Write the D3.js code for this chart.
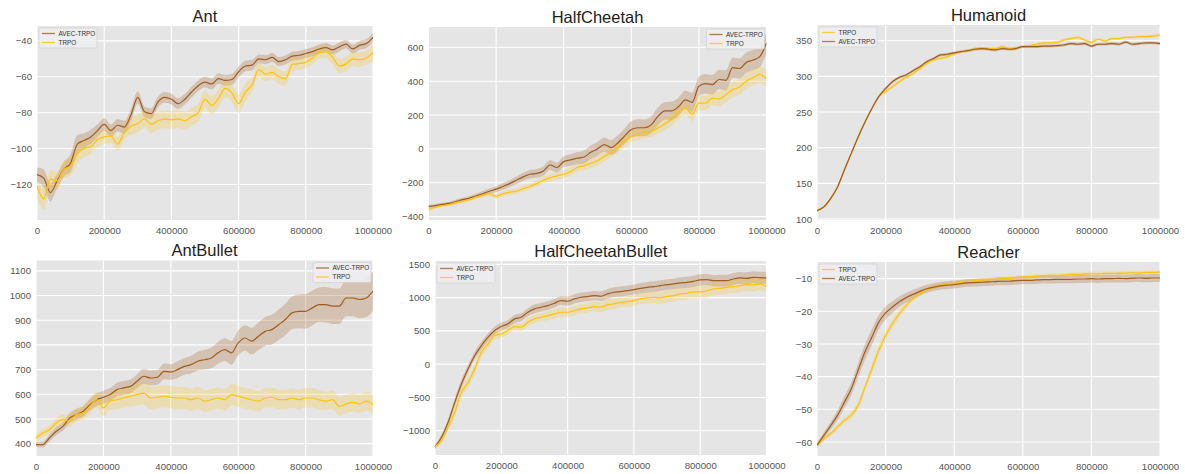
<!DOCTYPE html>
<html>
<head>
<meta charset="utf-8">
<script src="https://cdn.jsdelivr.net/npm/d3@7"></script>
<style>
  html, body { margin: 0; padding: 0; background: #ffffff; }
  svg { display: block; font-family: "Liberation Sans", Arial, sans-serif; }
</style>
</head>
<body>
<svg id="chart" width="1185" height="474"></svg>
<script>
// ---------------- DATA ----------------
const STEPS = [0,20000,40000,60000,80000,100000,120000,140000,160000,180000,
  200000,220000,240000,260000,280000,300000,320000,340000,360000,380000,
  400000,420000,440000,460000,480000,500000,520000,540000,560000,580000,
  600000,620000,640000,660000,680000,700000,720000,740000,760000,780000,
  800000,820000,840000,860000,880000,900000,920000,940000,960000,980000,1000000];
const X_TICKS = [0,200000,400000,600000,800000,1000000];
const TITLES = ["Ant","HalfCheetah","Humanoid","AntBullet","HalfCheetahBullet","Reacher"];
const SERIES_NAMES = ["AVEC-TRPO","TRPO"];

// Ant
const ANT_AVEC = [-114.5,-116.5,-124.5,-118,-111.5,-108,-97.5,-95.5,-93.5,-90,-86.5,-90,-87,-88,-81,-71.5,-79.5,-80.5,-74,-71.5,-72.5,-75,-72.5,-68.5,-65,-63,-64,-61,-62,-61.5,-57.2,-54,-53.5,-50,-50.5,-49.2,-51.5,-50.5,-48.5,-48,-47,-46,-44.5,-43.7,-45,-43.3,-41.8,-44.5,-42.5,-41.5,-38];
const ANT_AVEC_SD = [4,5,5,4,4,5,5,4,4,3.5,3.5,3.5,3.5,3.5,3.5,3.5,3,3,3,3,3,3,3,3,3,3,3,3,3,3,3,3,3,2.5,2.5,2.5,2.5,2.5,2.5,2.5,2.5,2.5,2.5,2.5,2.5,2.5,2.5,2.5,2.5,2.5,2.5];
const ANT_TRPO = [-121,-128,-117,-118,-111.5,-110,-103,-100,-99,-95,-93.5,-93,-97.5,-91,-87.5,-86,-83.5,-86.5,-84.5,-83.5,-84,-83.5,-84.5,-82.2,-80,-72.5,-76,-72,-66.5,-69,-75,-68.5,-64.5,-56,-58.5,-57.5,-60,-61,-53,-52.6,-51.8,-49.5,-46.5,-46,-49.2,-54,-52.8,-50,-50.5,-49.5,-46.5];
const ANT_TRPO_SD = [6,6,5,5,5,5,5,5,4,4,4,4,4,4,5,5,5,5,5,5,5,5,5,5,5,5,5,5,5,5,5,5,4,4,4,4,4,4,4,3.5,3.5,3.5,3.5,3.5,4,4,4,4,4,4,5];

// HalfCheetah
const HC_AVEC = [-340,-335,-328,-322,-312,-300,-292,-278,-265,-250,-238,-222,-205,-185,-165,-150,-145,-130,-95,-110,-75,-65,-55,-48,-20,0,25,8,35,75,115,125,125,145,195,225,225,250,290,275,370,385,380,410,405,480,475,510,525,545,625];
const HC_AVEC_SD = [10,10,10,10,12,12,12,14,15,16,18,20,20,22,24,25,26,28,30,30,32,34,36,38,40,40,42,44,45,46,48,50,50,50,52,52,54,54,55,56,56,58,58,58,60,60,60,60,60,62,62];
const HC_TRPO = [-358,-345,-335,-330,-318,-310,-300,-285,-275,-265,-280,-265,-255,-250,-235,-222,-205,-185,-170,-160,-150,-135,-110,-100,-85,-70,-45,-20,10,45,75,85,100,105,125,150,175,215,240,205,270,270,300,295,320,350,365,400,420,440,415];
const HC_TRPO_SD = [10,10,10,10,10,10,12,12,12,14,14,15,16,16,18,18,20,20,22,22,24,24,25,26,28,28,30,30,32,32,34,34,35,36,36,38,38,40,40,40,42,42,44,44,45,46,46,48,48,50,50];

// Humanoid
const HUM_AVEC = [111.7,117,129,145,169,192,215,236,255,271.5,283,292.5,298.6,302,308,313.6,320.6,325,330,331,333,334.6,336,338,339,338,337,339,338,339,341.6,341.6,341.6,342.5,342.5,343,344,346,345,346,342.5,345,345,346,345,348,345,346,347,347,346];
const HUM_AVEC_SD = [1.5,1.5,1.5,2,2,2,2,2,2,2,2,2,2,2,2,2,2,2,2,2,2,2,2,2,2,2,2,2,2,2,2,2,2,2,2,2,2,2,2,2,2,2,2,2,2,2,2,2,2,2,2];
const HUM_TRPO = [111.7,117,129,145,169,192,215,236,255,271.5,278.5,285.5,292.5,298.6,304,311,318,323,325,327.6,331,334.6,336,338,339,339,339,341.6,339,339,341.6,343,345,347,347,347.7,351,353,354.7,351,347.7,352,349.5,353,353,354.7,354.7,355.6,355.6,356.5,358];
const HUM_TRPO_SD = [1.5,1.5,1.5,2,2,2,2,2,2,2,2.5,2.5,2.5,2.5,2.5,2.5,2.5,2.5,2.5,2.5,2.5,2,2,2,2,2,2,2,2,2,2,2,2,2,2,2,2,2,2,2,2,2,2,2,2,2,2,2,2,2,2];

// AntBullet
const AB_AVEC = [396,396,423,450,470,504,518,531,558,578,588,599,619,626,632,653,673,666,669,693,690,700,713,720,734,740,747,768,781,768,808,828,815,835,855,862,882,903,930,936,936,950,963,963,957,957,990,990,984,990,1018];
const AB_AVEC_SD = [10,12,14,16,18,20,22,22,24,25,26,26,28,28,28,28,30,30,30,32,32,34,34,36,38,40,42,44,46,48,50,52,54,56,58,60,62,64,66,68,70,70,70,72,72,72,74,74,76,78,80];
const AB_TRPO = [423,443,457,484,497,491,518,524,551,578,545,572,578,585,592,599,605,585,588,592,588,585,585,578,585,572,578,585,578,599,592,585,578,572,585,588,578,578,585,578,585,585,578,572,578,551,561,567,561,572,558];
const AB_TRPO_SD = [15,16,18,20,22,24,26,28,30,32,34,36,38,40,42,44,46,46,46,46,46,46,46,46,46,44,44,44,44,44,42,42,42,42,40,40,40,40,40,40,40,40,40,38,38,38,38,38,38,38,38];

// HalfCheetahBullet
const HCB_AVEC = [-1245,-1095,-870,-570,-295,-70,130,280,405,505,565,605,680,705,780,830,855,880,915,955,945,980,1005,1015,1030,1020,1055,1080,1090,1105,1120,1140,1155,1165,1180,1195,1205,1220,1230,1245,1265,1270,1255,1255,1255,1280,1295,1290,1305,1300,1295];
const HCB_AVEC_SD = [30,40,50,60,60,60,60,60,60,60,60,60,60,60,60,65,65,65,65,65,70,70,70,70,70,70,75,75,75,75,75,80,80,80,80,80,80,85,85,85,85,85,85,90,90,90,90,90,90,90,90];
const HCB_TRPO = [-1245,-1145,-945,-720,-420,-270,-70,180,305,430,455,505,565,555,630,680,705,730,755,780,780,805,830,845,865,855,895,905,930,940,955,980,995,1005,995,1015,1030,1055,1065,1085,1085,1100,1130,1140,1155,1165,1180,1195,1190,1205,1165];
const HCB_TRPO_SD = [30,40,50,70,80,80,80,80,70,60,60,60,60,60,60,60,60,70,70,70,70,70,70,75,75,75,80,80,80,80,85,85,85,85,90,90,90,90,90,95,95,95,95,95,100,100,100,100,100,100,100];

// Reacher
const RE_AVEC = [-61,-58,-55,-51.8,-47.8,-43.7,-38,-32.4,-27.9,-23.3,-20.5,-18.7,-17.1,-15.8,-14.8,-13.9,-13.1,-12.6,-12.2,-12,-11.8,-11.5,-11.3,-11.2,-11.1,-11,-10.9,-10.8,-10.8,-10.6,-10.5,-10.5,-10.4,-10.3,-10.3,-10.2,-10.2,-10.2,-10.1,-10.1,-10,-10.1,-10,-10,-9.9,-10,-9.9,-9.8,-9.9,-9.8,-9.8];
const RE_AVEC_SD = [0.8,1,1.2,1.5,1.8,2,2.2,2.4,2.4,2.2,2,1.8,1.6,1.5,1.4,1.3,1.2,1.2,1.2,1.2,1.2,1.2,1.2,1.2,1.2,1.2,1.2,1.2,1.2,1.2,1.2,1.2,1.2,1.2,1.2,1.2,1.2,1.2,1.2,1.2,1.2,1.2,1.2,1.2,1.2,1.2,1.2,1.2,1.2,1.2,1.2];
const RE_TRPO = [-61,-59,-57.4,-55.4,-53.4,-51.8,-48.8,-43.2,-37.6,-32,-27.4,-23.8,-20.7,-18.2,-16.1,-14.6,-13.4,-12.6,-12,-11.7,-11.5,-11.2,-10.9,-10.7,-10.5,-10.3,-10.2,-10,-9.9,-9.7,-9.5,-9.4,-9.2,-9.1,-9,-9,-8.9,-8.7,-8.7,-8.6,-8.5,-8.5,-8.4,-8.4,-8.3,-8.3,-8.2,-8.2,-8.1,-8.1,-8];
const RE_TRPO_SD = [0.5,0.6,0.7,0.8,0.9,1,1.2,1.4,1.6,1.6,1.5,1.4,1.2,1,0.8,0.7,0.6,0.6,0.6,0.6,0.6,0.6,0.6,0.6,0.6,0.6,0.6,0.6,0.6,0.6,0.6,0.6,0.6,0.6,0.6,0.6,0.6,0.6,0.6,0.6,0.6,0.6,0.6,0.6,0.6,0.6,0.6,0.6,0.6,0.6,0.6];

// Y tick labels per panel
const Y_TICKS_ANT = [-120,-100,-80,-60,-40];
const Y_TICKS_HC = [-400,-200,0,200,400,600];
const Y_TICKS_HUM = [100,150,200,250,300,350];
const Y_TICKS_AB = [400,500,600,700,800,900,1000,1100];
const Y_TICKS_HCB = [-1000,-500,0,500,1000,1500];
const Y_TICKS_RE = [-60,-50,-40,-30,-20,-10];

// ---------------- STYLE / LAYOUT ----------------
const COLORS = { "AVEC-TRPO": "#a15c1f", "TRPO": "#ffc20a" };
const BAND_ALPHA = { "AVEC-TRPO": 0.26, "TRPO": 0.22 };

const panels = [
  { title: TITLES[0], box: [37, 26, 373, 220], ydom: [-139.8, -31.7], yticks: Y_TICKS_ANT, legend: "left",
    series: [["AVEC-TRPO", ANT_AVEC, ANT_AVEC_SD], ["TRPO", ANT_TRPO, ANT_TRPO_SD]] },
  { title: TITLES[1], box: [428.5, 27, 766.5, 220], ydom: [-420, 720], yticks: Y_TICKS_HC, legend: "right",
    series: [["AVEC-TRPO", HC_AVEC, HC_AVEC_SD], ["TRPO", HC_TRPO, HC_TRPO_SD]] },
  { title: TITLES[2], box: [817, 25, 1160, 220], ydom: [98.6, 372], yticks: Y_TICKS_HUM, legend: "left",
    series: [["TRPO", HUM_TRPO, HUM_TRPO_SD], ["AVEC-TRPO", HUM_AVEC, HUM_AVEC_SD]] },
  { title: TITLES[3], box: [36, 260.5, 373, 456], ydom: [350, 1142], yticks: Y_TICKS_AB, legend: "right",
    series: [["AVEC-TRPO", AB_AVEC, AB_AVEC_SD], ["TRPO", AB_TRPO, AB_TRPO_SD]] },
  { title: TITLES[4], box: [435, 261, 766.5, 455], ydom: [-1365, 1550], yticks: Y_TICKS_HCB, legend: "left",
    series: [["AVEC-TRPO", HCB_AVEC, HCB_AVEC_SD], ["TRPO", HCB_TRPO, HCB_TRPO_SD]] },
  { title: TITLES[5], box: [817, 262, 1160, 456], ydom: [-64.3, -4.9], yticks: Y_TICKS_RE, legend: "left",
    series: [["TRPO", RE_TRPO, RE_TRPO_SD], ["AVEC-TRPO", RE_AVEC, RE_AVEC_SD]] }
];

const svg = d3.select("#chart");
const fmt = d3.format("d");

panels.forEach((p, pi) => {
  const [x0, y0, x1, y1] = p.box;
  const x = d3.scaleLinear().domain([0, 1000000]).range([x0, x1]);
  const y = d3.scaleLinear().domain(p.ydom).range([y1, y0]);
  const g = svg.append("g");

  const clipId = "clip" + pi;
  svg.append("clipPath").attr("id", clipId)
    .append("rect").attr("x", x0).attr("y", y0).attr("width", x1 - x0).attr("height", y1 - y0);

  // background
  g.append("rect").attr("x", x0).attr("y", y0).attr("width", x1 - x0).attr("height", y1 - y0)
    .attr("fill", "#e5e5e5");

  // grid
  g.append("g").selectAll("line").data(X_TICKS).join("line")
    .attr("x1", d => x(d)).attr("x2", d => x(d)).attr("y1", y0).attr("y2", y1)
    .attr("stroke", "#ffffff").attr("stroke-width", 1.1);
  g.append("g").selectAll("line").data(p.yticks).join("line")
    .attr("x1", x0).attr("x2", x1).attr("y1", d => y(d)).attr("y2", d => y(d))
    .attr("stroke", "#ffffff").attr("stroke-width", 1.1);

  // axes (labels only, via d3 axes)
  const xAxis = d3.axisBottom(x).tickValues(X_TICKS).tickFormat(fmt).tickSize(0).tickPadding(7);
  const gx = g.append("g").attr("transform", `translate(0,${y1})`).call(xAxis);
  const yAxis = d3.axisLeft(y).tickValues(p.yticks).tickFormat(d3.format("d")).tickSize(0).tickPadding(5);
  const gy = g.append("g").attr("transform", `translate(${x0},0)`).call(yAxis);
  [gx, gy].forEach(a => {
    a.select(".domain").remove();
    a.selectAll("text").attr("fill", "#555555").attr("font-size", "9.6px")
      .attr("font-family", "'Liberation Sans', Arial, sans-serif");
  });

  // data
  const plot = g.append("g").attr("clip-path", `url(#${clipId})`);
  p.series.forEach(([name, vals, sd]) => {
    const rows = STEPS.map((s, i) => ({ s, v: vals[i], sd: sd[i] }));
    const area = d3.area().x(d => x(d.s)).y0(d => y(d.v - d.sd)).y1(d => y(d.v + d.sd))
      .curve(d3.curveMonotoneX);
    plot.append("path").datum(rows).attr("d", area)
      .attr("fill", COLORS[name]).attr("fill-opacity", BAND_ALPHA[name]).attr("stroke", "none");
  });
  p.series.forEach(([name, vals]) => {
    const rows = STEPS.map((s, i) => ({ s, v: vals[i] }));
    const line = d3.line().x(d => x(d.s)).y(d => y(d.v)).curve(d3.curveMonotoneX);
    plot.append("path").datum(rows).attr("d", line)
      .attr("fill", "none").attr("stroke", COLORS[name]).attr("stroke-width", 1.2);
  });

  // title
  g.append("text").attr("x", (x0 + x1) / 2).attr("y", y0 - 4.5)
    .attr("text-anchor", "middle").attr("font-size", "16.5px").attr("fill", "#222222")
    .text(p.title);

  // legend
  const lw = 58, lh = 20;
  const lx = p.legend === "left" ? x0 + 2 : x1 - 2 - lw;
  const ly = y0 + 2;
  const lg = g.append("g").attr("transform", `translate(${lx},${ly})`);
  lg.append("rect").attr("width", lw).attr("height", lh).attr("rx", 1.5)
    .attr("fill", "#eeeef2").attr("fill-opacity", 0.85)
    .attr("stroke", "#cccccc").attr("stroke-width", 0.6);
  p.series.forEach(([name], i) => {
    const yy = 5.5 + i * 9;
    lg.append("line").attr("x1", 3).attr("x2", 16).attr("y1", yy).attr("y2", yy)
      .attr("stroke", COLORS[name]).attr("stroke-width", 1.3).attr("stroke-opacity", 0.8);
    lg.append("text").attr("x", 19.5).attr("y", yy).attr("dy", "0.35em")
      .attr("font-size", "6.4px").attr("fill", "#333333").text(name);
  });
});
</script>
</body>
</html>
